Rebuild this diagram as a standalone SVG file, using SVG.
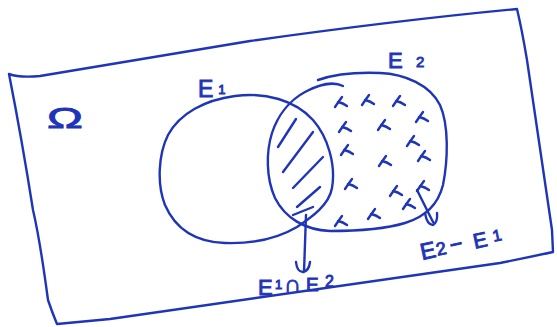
<svg xmlns="http://www.w3.org/2000/svg" xmlns:xlink="http://www.w3.org/1999/xlink" width="557" height="327" viewBox="0 0 557 327">
  <style>
    .ink { fill: none; stroke: #1f35b8; stroke-width: 2.4; stroke-linecap: round; stroke-linejoin: round; }
    .lbl { fill: #1f35b8; stroke: #1f35b8; stroke-width: 0.9; font-family: "Liberation Sans", "DejaVu Sans", sans-serif; }
  </style>
  <defs>
    <path id="xm" class="ink" d="M-6,5 Q-2,-1 1,-5 M-3,0 Q2,1 6,4"/>
  </defs>
  <rect width="557" height="327" fill="#ffffff"/>

  <g id="omega-frame">
    <path class="ink" d="M9,74 Q20,78 40,76 Q150,58 250,41 Q400,20 517,9 Q522,30 527,60 Q540,150 552,230 L553,252 Q525,258 500,263 Q300,292 110,319 L57,324 Q52,312 48,300 Q40,240 33,210 Q22,140 9,74 Z"/>
    <text class="lbl" font-size="30" stroke-width="0.6" transform="translate(47,128) scale(1.6,1)">Ω</text>
  </g>

  <g id="E1">
    <path class="ink" d="M297,227 C280,237 255,244 225,243 C195,242 175,228 165,205 C157,185 158,155 168,135 C180,113 205,100 235,96 C265,92 295,100 313,120 C328,137 336,165 332,188 C329,205 312,217 297,227 Z"/>
    <text class="lbl" x="198" y="97" font-size="23">E<tspan font-size="13" dx="5" dy="-3">1</tspan></text>
  </g>

  <g id="E2">
    <path class="ink" d="M318,80 C335,74 355,72 380,73 C405,74 430,85 440,105 C449,125 448,160 443,185 C438,205 425,217 405,223 C385,229 355,231 330,231 C305,230 285,218 275,198 C266,178 266,152 272,133 C278,115 290,100 305,92 C318,85 333,81 343,86"/>
    <text class="lbl" x="388" y="68" font-size="22">E<tspan x="416" y="67" font-size="15">2</tspan></text>
  </g>

  <g id="intersection-hatch">
    <path class="ink" d="M278,147 L296,119 M283,172 L313,132 M293,188 L323,157 M297,207 L320,187 M293,215 L313,207"/>
  </g>

  <g id="difference-marks">
    <use xlink:href="#xm" x="341" y="102"/>
    <use xlink:href="#xm" x="368" y="100"/>
    <use xlink:href="#xm" x="399" y="101"/>
    <use xlink:href="#xm" x="345" y="127"/>
    <use xlink:href="#xm" x="384" y="125"/>
    <use xlink:href="#xm" x="422" y="117"/>
    <use xlink:href="#xm" x="347" y="150"/>
    <use xlink:href="#xm" x="413" y="141"/>
    <use xlink:href="#xm" x="424" y="156"/>
    <use xlink:href="#xm" x="385" y="161"/>
    <use xlink:href="#xm" x="351" y="184"/>
    <use xlink:href="#xm" x="396" y="191"/>
    <use xlink:href="#xm" x="423" y="186"/>
    <use xlink:href="#xm" x="409" y="204"/>
    <use xlink:href="#xm" x="341" y="221"/>
    <use xlink:href="#xm" x="374" y="214"/>
  </g>

  <g id="connectors">
    <path class="ink" d="M306,215 L304,272 M296,262 Q297,272 303,272 Q309,271 310,262"/>
    <path class="ink" d="M417,190 L433,222 M425,213 Q427,225 433,225 Q438,222 437,213"/>
  </g>

  <g id="label-intersection">
    <text class="lbl" y="295"><tspan x="258" font-size="22">E</tspan><tspan x="275" y="289" font-size="13">1</tspan><tspan x="284" y="292" font-size="24">∩</tspan><tspan x="306" y="291" font-size="19">E</tspan><tspan x="325" y="287" font-size="16">2</tspan></text>
  </g>

  <g id="label-difference">
    <text class="lbl" transform="translate(422,260) rotate(-12)"><tspan x="0" y="0" font-size="23">E</tspan><tspan x="16" y="-1" font-size="18">2</tspan><tspan x="30" y="-1" font-size="22">−</tspan><tspan x="54" y="0" font-size="21">E</tspan><tspan x="74" y="-3" font-size="16">1</tspan></text>
  </g>
</svg>
